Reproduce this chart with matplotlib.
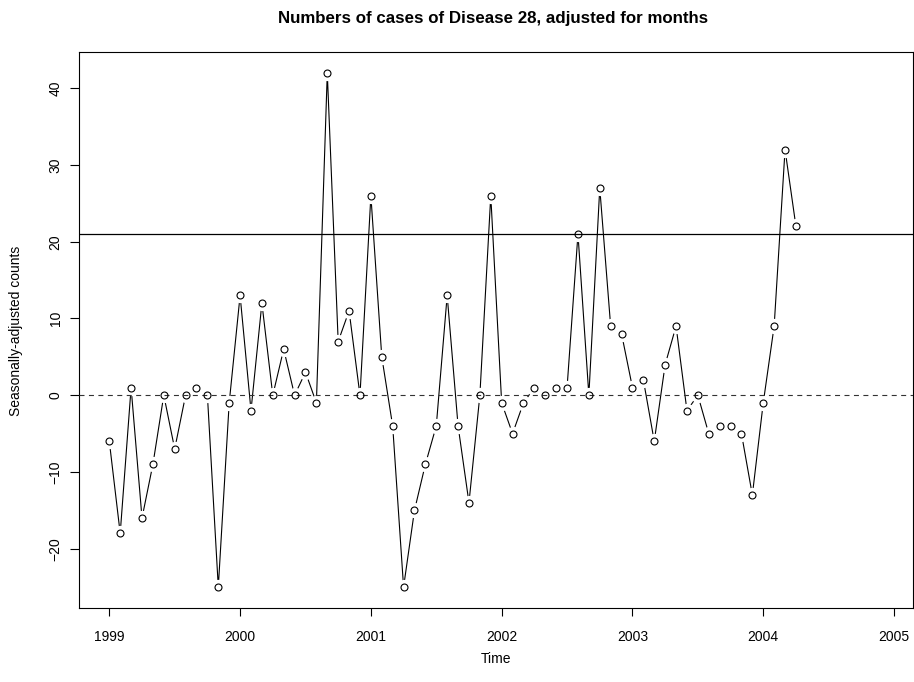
import numpy as np
import matplotlib
matplotlib.use('Agg')
from matplotlib import pyplot as plt

plt.rcParams['font.family'] = ['Liberation Sans', 'DejaVu Sans']

# seasonally adjusted counts, monthly from Jan 1999
counts_1999 = [-6, -18, 1, -16, -9, 0, -7, 0, 1, 0, -25, -1]
counts_2000 = [13, -2, 12, 0, 6, 0, 3, -1, 42, 7, 11, 0]
counts_2001 = [26, 5, -4, -25, -15, -9, -4, 13, -4, -14, 0, 26]
counts_2002 = [-1, -5, -1, 1, 0, 1, 1, 21, 0, 27, 9, 8]
counts_2003 = [1, 2, -6, 4, 9, -2, 0, -5, -4, -4, -5, -13]
counts_2004 = [-1, 9, 32, 22]
start_year = 1999
threshold = 21
year_ticks = [1999, 2000, 2001, 2002, 2003, 2004, 2005]
count_ticks = [-20, -10, 0, 10, 20, 30, 40]

counts = np.array(counts_1999 + counts_2000 + counts_2001 + counts_2002
                  + counts_2003 + counts_2004)
time = start_year + np.arange(len(counts)) / 12.0

W, H = 914, 682
fig = plt.figure(figsize=(W / 100, H / 100), dpi=100)
left, right, top, bottom = 78.7, 913, 52.3, 607.7
ax = fig.add_axes([left / W, 1 - bottom / H, (right - left) / W, (bottom - top) / H])

# R style type="b": line with gaps round the points
ax.plot(time, counts, color='black', lw=0.8, zorder=2)
ax.plot(time, counts, 'o', ms=11, mfc='white', mec='none', zorder=3)
ax.axhline(threshold, color='black', lw=0.9, zorder=4)
ax.axhline(0, color='#333333', lw=0.8, ls=(0, (4.5, 4)), zorder=4)
ax.plot(time, counts, 'o', ms=5.0, mfc='none', mec='black', mew=0.8, zorder=5)

ax.set_xlim(1998.766, 2005.145)
ax.set_ylim(-27.68, 44.68)
ax.set_xticks(year_ticks)
ax.set_yticks(count_ticks)
ax.tick_params(axis='x', length=6, width=0.8, pad=10, labelsize=10)
ax.tick_params(axis='y', length=6.5, width=0.8, pad=5, labelsize=10)
for lab in ax.get_yticklabels():
    lab.set_rotation(90)
    lab.set_va('center')
for s in ax.spines.values():
    s.set_linewidth(0.8)

fig.text(493 / W, 1 - 18 / H, 'Numbers of cases of Disease 28, adjusted for months',
         ha='center', va='center', fontsize=12.2, fontweight='bold')
fig.text(496 / W, 1 - 659 / H, 'Time', ha='center', va='center', fontsize=10)
fig.text(16 / W, 1 - 331 / H, 'Seasonally-adjusted counts', ha='center', va='center',
         rotation=90, fontsize=10)

plt.savefig('out.png', dpi=100)
